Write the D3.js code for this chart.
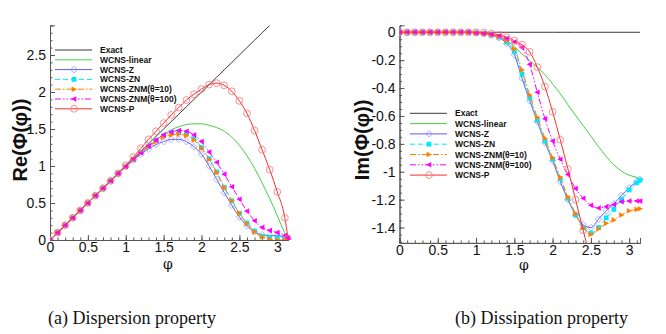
<!DOCTYPE html>
<html>
<head>
<meta charset="utf-8">
<script src="https://cdn.jsdelivr.net/npm/d3@7"></script>
<style>
  body { margin: 0; background: #fff; }
  svg { display: block; }
</style>
</head>
<body>
<svg id="chart" width="666" height="334"></svg>
<script>
// sample points in phi
const phi = [0, 0.1, 0.2, 0.3, 0.4, 0.5, 0.6, 0.7, 0.8, 0.9, 1.0, 1.1, 1.2, 1.3, 1.4, 1.5,
  1.6, 1.7, 1.8, 1.9, 2.0, 2.1, 2.2, 2.3, 2.4, 2.5, 2.6, 2.7, 2.8, 2.9, 3.0, 3.1, 3.1416];

// (a) real part
const exactRe = [0, 0.1, 0.2, 0.3, 0.4, 0.5, 0.6, 0.7, 0.8, 0.9, 1.0, 1.1, 1.2, 1.3, 1.4, 1.5,
  1.6, 1.7, 1.8, 1.9, 2.0, 2.1, 2.2, 2.3, 2.4, 2.5, 2.6, 2.7, 2.8, 2.9, 3.0, 3.1, 3.1416];
const linearRe = [0, 0.1, 0.2, 0.3, 0.4, 0.5, 0.6, 0.7, 0.8, 0.9, 0.99, 1.08, 1.17, 1.26, 1.35, 1.43,
  1.49, 1.53, 1.56, 1.57, 1.57, 1.55, 1.52, 1.47, 1.39, 1.28, 1.14, 0.97, 0.77, 0.56, 0.33, 0.09, 0];
const zRe = [0, 0.1, 0.2, 0.3, 0.4, 0.5, 0.6, 0.7, 0.8, 0.9, 0.99, 1.08, 1.16, 1.23, 1.29, 1.33,
  1.36, 1.36, 1.33, 1.26, 1.16, 1.0, 0.82, 0.64, 0.47, 0.31, 0.19, 0.11, 0.07, 0.06, 0.06, 0.03, 0];
const znRe = [0, 0.1, 0.2, 0.3, 0.4, 0.5, 0.6, 0.7, 0.8, 0.9, 0.99, 1.09, 1.18, 1.27, 1.35, 1.41,
  1.45, 1.46, 1.44, 1.37, 1.25, 1.10, 0.92, 0.71, 0.53, 0.36, 0.23, 0.12, 0.05, 0.03, 0.03, 0.02, 0];
const znm10Re = [0, 0.1, 0.2, 0.3, 0.4, 0.5, 0.6, 0.7, 0.8, 0.9, 0.99, 1.09, 1.18, 1.26, 1.33, 1.39,
  1.42, 1.43, 1.41, 1.35, 1.24, 1.09, 0.91, 0.71, 0.53, 0.36, 0.22, 0.11, 0.04, 0.01, 0, 0, 0];
const znm100Re = [0, 0.1, 0.2, 0.3, 0.4, 0.5, 0.6, 0.7, 0.8, 0.9, 0.99, 1.09, 1.18, 1.27, 1.35, 1.42,
  1.46, 1.48, 1.47, 1.42, 1.33, 1.19, 1.05, 0.89, 0.72, 0.55, 0.39, 0.26, 0.17, 0.13, 0.10, 0.06, 0.02];
const pRe = [0, 0.1, 0.2, 0.3, 0.4, 0.5, 0.6, 0.7, 0.8, 0.9, 1.01, 1.12, 1.24, 1.36, 1.47, 1.58,
  1.69, 1.79, 1.89, 1.97, 2.04, 2.10, 2.12, 2.09, 2.01, 1.88, 1.71, 1.48, 1.22, 0.95, 0.65, 0.30, 0.02];

// (b) imaginary part
const exactIm = [0, 0, 0, 0, 0, 0, 0, 0, 0, 0, 0, 0, 0, 0, 0, 0,
  0, 0, 0, 0, 0, 0, 0, 0, 0, 0, 0, 0, 0, 0, 0, 0, 0];
const linearIm = [0, 0, 0, 0, 0, 0, 0, 0, 0, 0, 0, -0.005, -0.015, -0.03, -0.06, -0.10,
  -0.155, -0.205, -0.25, -0.305, -0.37, -0.44, -0.52, -0.595, -0.67, -0.745, -0.82, -0.89, -0.95, -0.995, -1.025, -1.04, -1.05];
const zIm = [0, 0, 0, 0, 0, 0, 0, 0, 0, 0, -0.005, -0.01, -0.02, -0.04, -0.08, -0.16,
  -0.33, -0.49, -0.64, -0.79, -0.92, -1.07, -1.20, -1.31, -1.38, -1.40, -1.34, -1.28, -1.23, -1.17, -1.115, -1.07, -1.055];
const znIm = [0, 0, 0, 0, 0, 0, 0, 0, 0, 0, -0.005, -0.01, -0.02, -0.035, -0.07, -0.14,
  -0.30, -0.47, -0.63, -0.78, -0.91, -1.05, -1.19, -1.31, -1.40, -1.44, -1.40, -1.33, -1.27, -1.20, -1.13, -1.08, -1.06];
const znm10Im = [0, 0, 0, 0, 0, 0, 0, 0, 0, 0, -0.005, -0.01, -0.02, -0.035, -0.06, -0.12,
  -0.27, -0.45, -0.61, -0.76, -0.90, -1.04, -1.18, -1.30, -1.40, -1.45, -1.41, -1.37, -1.345, -1.31, -1.28, -1.27, -1.265];
const znm100Im = [0, 0, 0, 0, 0, 0, 0, 0, 0, 0, -0.005, -0.01, -0.015, -0.025, -0.045, -0.07,
  -0.11, -0.23, -0.43, -0.62, -0.78, -0.91, -1.02, -1.12, -1.19, -1.24, -1.26, -1.25, -1.235, -1.215, -1.21, -1.21, -1.21];
const pIm = [0, 0, 0, 0, 0, 0, 0, 0, 0, 0, 0, -0.003, -0.01, -0.02, -0.035, -0.06,
  -0.09, -0.14, -0.25, -0.39, -0.57, -0.77, -0.98, -1.20, -1.42, -1.64, null, null, null, null, null, null, null];

const seriesNames = ["Exact", "WCNS-linear", "WCNS-Z", "WCNS-ZN", "WCNS-ZNM(\u03b8=10)", "WCNS-ZNM(\u03b8=100)", "WCNS-P"];
const xTicks = [0, 0.5, 1, 1.5, 2, 2.5, 3];
const reTicks = [0, 0.5, 1, 1.5, 2, 2.5];
const imTicks = [0, -0.2, -0.4, -0.6, -0.8, -1, -1.2, -1.4];
const captions = ["(a) Dispersion property", "(b) Dissipation property"];

// styles per series, same order as names
const styles = [
  { color: "#222", width: 0.9, dash: null, marker: null },
  { color: "#2ecc2e", width: 0.9, dash: null, marker: null },
  { color: "#5a5aff", width: 1, dash: null, marker: "diamond", mcolor: "#9a9aff" },
  { color: "#00e8ff", width: 1, dash: "5,3", marker: "square", mcolor: "#00e8ff" },
  { color: "#ff8000", width: 1, dash: "6,2,1.5,2", marker: "tright", mcolor: "#ff8000" },
  { color: "#ff00ff", width: 1, dash: "6,2,1.5,2,1.5,2", marker: "tleft", mcolor: "#ff00ff" },
  { color: "#f03030", width: 1, dash: null, marker: "circle", mcolor: "#ff7070" }
];

const svg = d3.select("#chart");
const font = '"Liberation Sans", Arial, sans-serif';

function drawMarker(g, kind, c) {
  if (kind === "diamond") {
    g.append("path").attr("d", "M0,-3.3L3.3,0L0,3.3L-3.3,0Z").attr("fill", "none").attr("stroke", c).attr("stroke-width", 0.8);
  } else if (kind === "square") {
    g.append("rect").attr("x", -2.4).attr("y", -2.4).attr("width", 4.8).attr("height", 4.8).attr("fill", c);
  } else if (kind === "tright") {
    g.append("path").attr("d", "M-2.3,-2.8L3,0L-2.3,2.8Z").attr("fill", c);
  } else if (kind === "tleft") {
    g.append("path").attr("d", "M2.3,-2.8L-3,0L2.3,2.8Z").attr("fill", c);
  } else if (kind === "circle") {
    g.append("circle").attr("r", 3.4).attr("fill", "none").attr("stroke", c).attr("stroke-width", 0.8);
  }
}

function panel(opt) {
  const x = d3.scaleLinear().domain([0, Math.PI]).range(opt.xr);
  const y = d3.scaleLinear().domain(opt.yd).range(opt.yr);
  const g = svg.append("g");

  g.append("clipPath").attr("id", opt.id).append("rect")
    .attr("x", opt.xr[0]).attr("y", opt.yr[1])
    .attr("width", opt.xr[1] - opt.xr[0] + 6).attr("height", opt.yr[0] - opt.yr[1]);

  // axes, ticks pointing inward
  const xAxis = d3.axisBottom(x).tickValues(xTicks).tickSize(-5).tickPadding(2).tickFormat(d3.format("~g"));
  const xMinor = d3.axisBottom(x).tickValues(d3.range(0, 3.15, 0.1)).tickSize(-2.5).tickFormat("");
  const yAxis = d3.axisLeft(y).tickValues(opt.ticks).tickSize(-5).tickPadding(4).tickFormat(d3.format("~g"));
  const yMinor = d3.axisLeft(y).tickValues(opt.minor).tickSize(-2.5).tickFormat("");

  [xMinor, xAxis].forEach(a => {
    const ax = g.append("g").attr("transform", `translate(0,${opt.yr[0]})`).call(a);
    ax.select(".domain").attr("stroke", "#555");
    ax.selectAll("line").attr("stroke", "#555");
  });
  [yMinor, yAxis].forEach(a => {
    const ax = g.append("g").attr("transform", `translate(${opt.xr[0]},0)`).call(a);
    ax.select(".domain").attr("stroke", "#555");
    ax.selectAll("line").attr("stroke", "#555");
  });
  g.selectAll(".tick text").attr("font-size", 14).attr("font-family", font).attr("fill", "#111")
    .text(function() { return d3.select(this).text().replace("\u2212", "-"); });

  const plot = g.append("g").attr("clip-path", `url(#${opt.id})`);
  opt.series.forEach((vals, i) => {
    const st = styles[i];
    const pts = phi.map((p, k) => [p, vals[k]]).filter(d => d[1] !== null);
    const line = d3.line().x(d => x(d[0])).y(d => y(d[1])).curve(d3.curveMonotoneX);
    plot.append("path").datum(pts).attr("d", line)
      .attr("fill", "none").attr("stroke", st.color).attr("stroke-width", st.width)
      .attr("stroke-dasharray", st.dash);
    if (st.marker) {
      pts.forEach(d => {
        const m = plot.append("g").attr("transform", `translate(${x(d[0])},${y(d[1])})`);
        drawMarker(m, st.marker, st.mcolor);
      });
    }
  });

  // legend
  const lg = g.append("g");
  seriesNames.forEach((name, i) => {
    const st = styles[i];
    const yy = opt.leg[1] + i * opt.leg[2];
    lg.append("line").attr("x1", opt.leg[0]).attr("x2", opt.leg[0] + 37)
      .attr("y1", yy).attr("y2", yy)
      .attr("stroke", st.color).attr("stroke-width", st.width).attr("stroke-dasharray", st.dash);
    if (st.marker) {
      const m = lg.append("g").attr("transform", `translate(${opt.leg[0] + 19},${yy})`);
      drawMarker(m, st.marker, st.mcolor);
    }
    lg.append("text").attr("x", opt.leg[0] + 45).attr("y", yy + 3)
      .attr("font-family", font).attr("font-weight", "bold").attr("font-size", 8.5)
      .attr("fill", "#111").text(name);
  });

  // axis titles
  g.append("text").attr("transform", `translate(${opt.title[0]},${opt.title[1]}) rotate(-90)`)
    .attr("text-anchor", "middle").attr("font-family", font).attr("font-weight", "bold")
    .attr("font-size", 20).attr("fill", "#111").text(opt.label);
  g.append("text").attr("x", opt.phiPos[0]).attr("y", opt.phiPos[1])
    .attr("text-anchor", "middle").attr("font-family", '"DejaVu Serif", serif')
    .attr("font-size", 14).attr("fill", "#111").text("\u03c6");

  // caption
  svg.append("text").attr("x", opt.cap[0]).attr("y", opt.cap[1])
    .attr("font-family", '"Liberation Serif", "Times New Roman", serif')
    .attr("font-size", 18).attr("fill", "#111").text(opt.caption);
}

panel({
  id: "clipA", xr: [50, 288], yd: [0, 2.9], yr: [240, 25.4],
  ticks: reTicks, minor: d3.range(0, 2.91, 0.1),
  series: [exactRe, linearRe, zRe, znRe, znm10Re, znm100Re, pRe],
  leg: [55, 50, 9.8], title: [27, 140], label: "Re(\u03a6(\u03c6))",
  phiPos: [168, 269], cap: [48, 324], caption: captions[0]
});

panel({
  id: "clipB", xr: [399.5, 640], yd: [-1.51, 0.05], yr: [242.9, 25.3],
  ticks: imTicks, minor: d3.range(0, -1.51, -0.05),
  series: [exactIm, linearIm, zIm, znIm, znm10Im, znm100Im, pIm],
  leg: [410, 113.3, 10.3], title: [369, 140], label: "Im(\u03a6(\u03c6))",
  phiPos: [524, 270], cap: [455, 324], caption: captions[1]
});
</script>
</body>
</html>
